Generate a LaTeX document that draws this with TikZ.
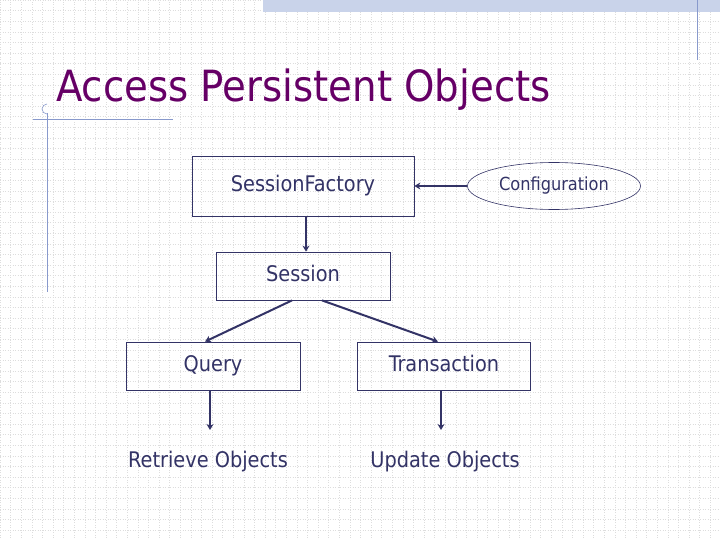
\documentclass[tikz,border=0pt]{standalone}
\usepackage{fontspec}
\setmainfont{DejaVu Sans Condensed}
\usetikzlibrary{shapes.geometric,arrows.meta}
\definecolor{ink}{HTML}{333366}
\definecolor{ttl}{HTML}{660066}
\definecolor{deco}{HTML}{8899CC}
\definecolor{band}{HTML}{C9D3EA}
\definecolor{gridc}{HTML}{DDDDDD}
\tikzset{box/.style={draw=ink,line width=0.8pt,text=ink,font=\fontsize{21.5}{24}\selectfont,minimum height=48pt,text height=15pt,text depth=4pt},
 arr/.style={draw=ink,line width=2pt,-{Stealth[length=6pt,width=7pt]}},
 lbl/.style={text=ink,font=\fontsize{21.5}{24}\selectfont}}
\begin{document}
\begin{tikzpicture}[x=1pt,y=-1pt]
\useasboundingbox (0,0) rectangle (720,540);
\fill[white] (0,0) rectangle (720,540);
\draw[gridc,dotted,line width=0.5pt] (0,0) grid[step=10.6pt] (720,540);
\fill[band] (263,0) rectangle (720,12);
\draw[deco,line width=0.8pt] (697,0) -- (697,60);
\draw[deco,line width=0.8pt] (33,119) -- (173,119);
\draw[deco,line width=0.8pt] (47,113) -- (47,292);
\draw[deco,line width=0.6pt] (47,114) arc (90:270:5);
\node[anchor=base west,text=ttl,font=\fontsize{43}{48}\selectfont,inner sep=0] (title) at (56,102) {Access Persistent Objects};
\node[box,minimum width=222pt,minimum height=60pt] (sf) at (303,186) {SessionFactory};
\node[draw=ink,line width=0.6pt,ellipse,minimum width=173pt,minimum height=47pt,text=ink,font=\fontsize{18}{20}\selectfont] (cfg) at (554,186) {Configuration};
\node[box,minimum width=174pt] (s) at (303,276) {Session};
\node[box,minimum width=174pt] (q) at (213,366) {Query};
\node[box,minimum width=173pt] (t) at (444,366) {Transaction};
\node[lbl] (r) at (208,462) {Retrieve Objects};
\node[lbl] (u) at (445,462) {Update Objects};
\draw[arr] (cfg.west) -- (sf.east);
\draw[arr] (sf.south -| 306,0) -- (s.north -| 306,0);
\draw[arr] ([xshift=-11pt]s.south) -- ([xshift=-8pt]q.north);
\draw[arr] ([xshift=19pt]s.south) -- ([xshift=-6pt]t.north);
\draw[arr] ([xshift=-3pt]q.south) -- (210,430);
\draw[arr] ([xshift=-3pt]t.south) -- (441,430);
\end{tikzpicture}
\end{document}
